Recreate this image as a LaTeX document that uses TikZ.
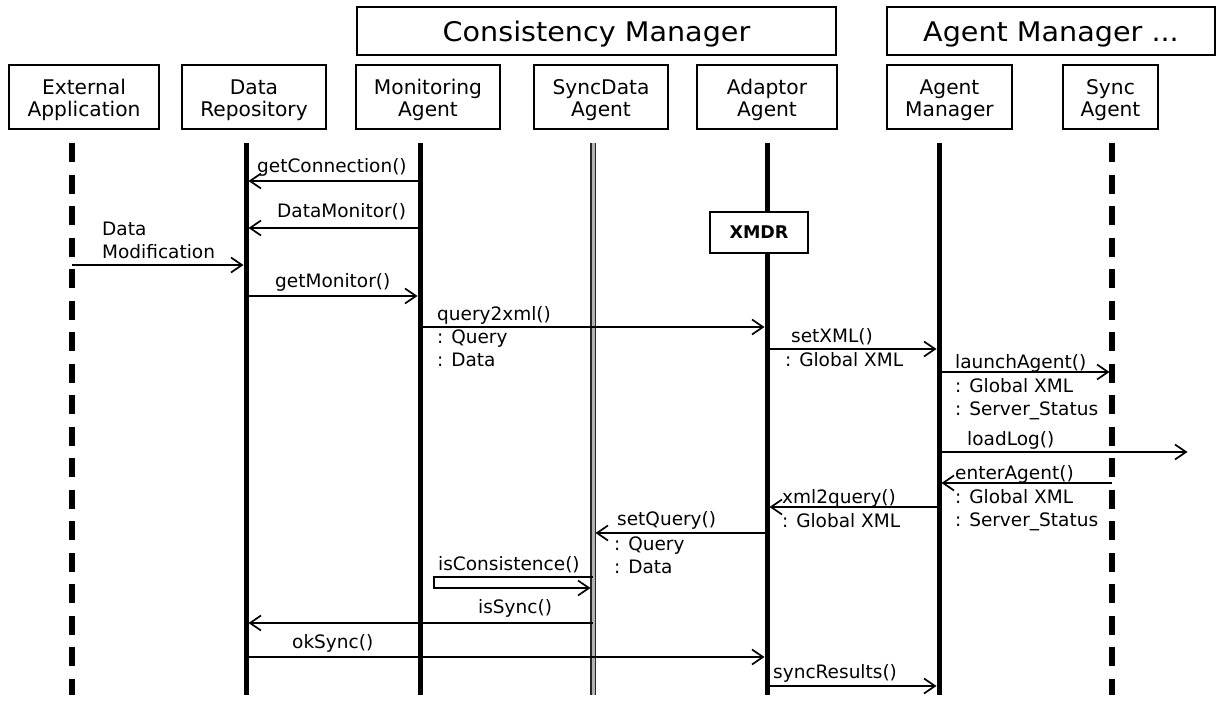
\documentclass[tikz,border=0pt]{standalone}
\usepackage{fontspec}
\setmainfont{DejaVu Sans}
\newfontfamily\diagfont[FakeStretch=1.06]{DejaVu Sans}
\usetikzlibrary{arrows.meta}
\newcommand\msgfont{\fontsize{18.5}{20}\selectfont}
\newcommand\partfont{\fontsize{20.2}{21.5}\selectfont}
\newcommand\headfont{\diagfont\fontsize{27}{30}\selectfont}
\begin{document}
\begin{tikzpicture}[x=1pt,y=-1pt,
  box/.style={draw, line width=1.7pt, inner sep=0pt, minimum height=64pt},
  ptext/.style={inner sep=0pt, align=center, font=\partfont},
  headbox/.style={draw, line width=1.7pt, inner sep=0pt, minimum height=48pt},
  htext/.style={inner sep=0pt, font=\headfont},
  msg/.style={line width=1.7pt, -{Straight Barb[length=11pt,width=15pt]}, shorten >=2.5pt},
  lbl/.style={anchor=base west, inner sep=0pt, font=\msgfont},
  life/.style={line width=5pt},
  lifedash/.style={line width=5.5pt, dash pattern=on 19pt off 12.5pt}]
\useasboundingbox (0,0) rectangle (1216,701);

% group headers
\node[headbox, minimum width=479pt] (cm) at (596.5,31) {};
\node[htext] (cm-t) at (596.5,34) {Consistency Manager};
\node[headbox, minimum width=328pt] (amh) at (1051,31) {};
\node[htext] (amh-t) at (1051,34) {Agent Manager ...};

% participants
\node[box, minimum width=150pt] (ea) at (84,97) {};
\node[ptext] (ea-t) at (84,100) {External\\Application};
\node[box, minimum width=144pt] (dr) at (254,97) {};
\node[ptext] (dr-t) at (254,100) {Data\\Repository};
\node[box, minimum width=144pt] (ma) at (428,97) {};
\node[ptext] (ma-t) at (428,100) {Monitoring\\Agent};
\node[box, minimum width=134pt] (sda) at (601,97) {};
\node[ptext] (sda-t) at (601,100) {SyncData\\Agent};
\node[box, minimum width=140pt] (aa) at (767,97) {};
\node[ptext] (aa-t) at (767,100) {Adaptor\\Agent};
\node[box, minimum width=125pt] (am) at (949.5,97) {};
\node[ptext] (am-t) at (949.5,100) {Agent\\Manager};
\node[box, minimum width=95pt] (sa) at (1110.5,97) {};
\node[ptext] (sa-t) at (1110.5,100) {Sync\\Agent};

% lifelines
\coordinate (Lea) at (72,143);   \coordinate (Lea-b) at (72,695);
\coordinate (Ldr) at (246,143);  \coordinate (Ldr-b) at (246,695);
\coordinate (Lma) at (420,143);  \coordinate (Lma-b) at (420,695);
\coordinate (Lsda) at (593,143); \coordinate (Lsda-b) at (593,695);
\coordinate (Laa) at (767,143);  \coordinate (Laa-b) at (767,695);
\coordinate (Lam) at (939,143);  \coordinate (Lam-b) at (939,695);
\coordinate (Lsa) at (1112,143); \coordinate (Lsa-b) at (1112,695);

\draw[lifedash] (Lea) -- (Lea-b);
\draw[life] (Ldr) -- (Ldr-b);
\draw[life] (Lma) -- (Lma-b);
\draw[line width=5.5pt, black!85] (Lsda) -- (Lsda-b);
\draw[line width=3pt, black!30] (Lsda) -- (Lsda-b);
\draw[life] (Laa) -- (Laa-b);
\draw[life] (Lam) -- (Lam-b);
\draw[lifedash] (Lsa) -- (Lsa-b);

\node[draw, fill=white, line width=1.7pt, minimum width=98pt, minimum height=41pt,
      inner sep=0pt, font=\bfseries\fontsize{17.5}{18}\selectfont] (xmdr) at (759,232.5) {XMDR};

% messages
\draw[msg] (Lma |- 0,181) -- (Ldr |- 0,181);
\node[lbl] (m1) at (257,172) {getConnection()};

\draw[msg] (Lma |- 0,228) -- (Ldr |- 0,228);
\node[lbl] (m2) at (277,217) {DataMonitor()};

\draw[msg] (Lea |- 0,265) -- (Ldr |- 0,265);
\node[lbl] (m3a) at (102,235) {Data};
\node[lbl] (m3b) at (102,258) {Modification};

\draw[msg] (Ldr |- 0,296) -- (Lma |- 0,296);
\node[lbl] (m4) at (275,287) {getMonitor()};

\draw[msg] (Lma |- 0,327) -- (Laa |- 0,327);
\node[lbl] (m5) at (437,320) {query2xml()};
\node[lbl] (m5a) at (437,343) {: Query};
\node[lbl] (m5b) at (437,366) {: Data};

\draw[msg] (Laa |- 0,349) -- (Lam |- 0,349);
\node[lbl] (m6) at (791,342) {setXML()};
\node[lbl] (m6a) at (785,366) {: Global XML};

\draw[msg] (Lam |- 0,372) -- (Lsa |- 0,372);
\node[lbl] (m7) at (955,368) {launchAgent()};
\node[lbl] (m7a) at (955,392) {: Global XML};
\node[lbl] (m7b) at (955,415) {: Server\_Status};

\coordinate (logout) at (1190,452);
\draw[msg] (Lam |- 0,452) -- (logout);
\node[lbl] (m8) at (967,445) {loadLog()};

\draw[msg] (Lsa |- 0,483) -- (Lam |- 0,483);
\node[lbl] (m9) at (955,479) {enterAgent()};
\node[lbl] (m9a) at (955,503) {: Global XML};
\node[lbl] (m9b) at (955,526) {: Server\_Status};

\draw[msg] (Lam |- 0,507) -- (Laa |- 0,507);
\node[lbl] (m10) at (782,503) {xml2query()};
\node[lbl] (m10a) at (782,527) {: Global XML};

\draw[msg] (Laa |- 0,533) -- (Lsda |- 0,533);
\node[lbl] (m11) at (617,525) {setQuery()};
\node[lbl] (m11a) at (614,550) {: Query};
\node[lbl] (m11b) at (614,573) {: Data};

\coordinate (icA) at (434,577);
\coordinate (icB) at (434,588);
\draw[msg] (Lsda |- 0,577) -- (icA) -- (icB) -- (Lsda |- 0,588);
\node[lbl] (m12) at (438,570) {isConsistence()};

\draw[msg] (Lsda |- 0,623) -- (Ldr |- 0,623);
\node[lbl] (m13) at (478,613) {isSync()};

\draw[msg] (Ldr |- 0,657) -- (Laa |- 0,657);
\node[lbl] (m14) at (292,648) {okSync()};

\draw[msg] (Laa |- 0,686) -- (Lam |- 0,686);
\node[lbl] (m15) at (773,678) {syncResults()};
\end{tikzpicture}
\end{document}
